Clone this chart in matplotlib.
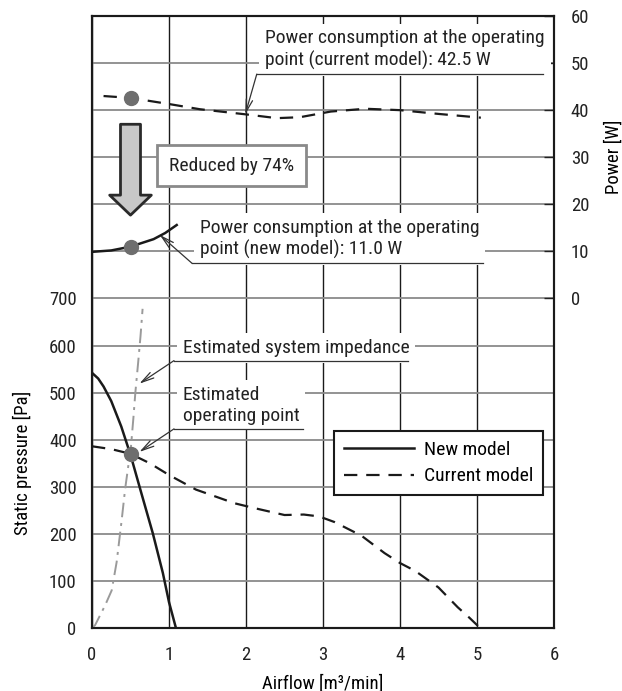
import matplotlib
matplotlib.use("Agg")
import matplotlib.pyplot as plt
import numpy as np

plt.rcParams['font.family'] = ['Roboto Condensed', 'DejaVu Sans']
plt.rcParams['font.size'] = 13

# static pressure curves
flow_new = [0, 0.08, 0.15, 0.25, 0.38, 0.5, 0.64, 0.79, 0.92, 1.0, 1.09]
pres_new = [542, 530, 513, 482, 428, 368, 287, 201, 117, 55, 0]

flow_cur = [0, 0.25, 0.5, 0.75, 1.0, 1.35, 1.85, 2.1, 2.5, 2.75, 2.95, 3.15,
            3.5, 3.8, 4.0, 4.2, 4.5, 4.75, 4.9, 5.04]
pres_cur = [386, 380, 370, 350, 325, 294, 265, 255, 240, 241, 237, 225,
            196, 159, 138, 121, 86, 44, 22, 0]

flow_imp = [0, 0.04, 0.17, 0.256, 0.32, 0.386, 0.43, 0.472, 0.506, 0.537,
            0.563, 0.60, 0.63, 0.657]
pres_imp = [0, 6, 48, 80, 140, 230, 295, 345, 385, 445, 500, 565, 620, 678]

# power curves
flow_pw_new = [0, 0.25, 0.5, 0.8, 0.95, 1.1]
power_new = [9.9, 10.2, 11.0, 12.6, 13.9, 15.6]

flow_pw_cur = [0.15, 0.5, 1.0, 1.4, 2.0, 2.4, 2.7, 3.1, 3.55, 4.0, 4.5, 5.05]
power_cur = [43.0, 42.6, 41.3, 40.2, 39.1, 38.3, 38.5, 39.7, 40.3, 40.0, 39.2, 38.4]

# operating point
op_flow = 0.5
op_pres = 370
op_power_cur = 42.5
op_power_new = 11.0

x_ticks = [0, 1, 2, 3, 4, 5, 6]
p_ticks = [0, 100, 200, 300, 400, 500, 600, 700]
w_ticks = [0, 10, 20, 30, 40, 50, 60]

fig = plt.figure(figsize=(6.22, 6.91), dpi=100)
ax = fig.add_axes([92 / 622, 1 - 628 / 691, 462 / 622, 612 / 691])
axp = ax.twinx()

ax.set_xlim(0, 6)
ax.set_ylim(0, 1300)
axp.set_ylim(-70, 60)

ax.set_xticks(x_ticks)
ax.set_yticks(np.arange(0, 1301, 100))
ax.set_yticklabels([str(v) if v in p_ticks else '' for v in range(0, 1301, 100)])
axp.set_yticks(w_ticks)

ax.yaxis.grid(True, color='#8a8a8a', lw=1.3)
ax.xaxis.grid(True, color='#1a1a1a', lw=1.0)
ax.set_axisbelow(True)
ax.tick_params(axis='both', length=0, labelsize=13.5, colors='#222222')
ax.tick_params(axis='y', pad=11)
ax.tick_params(axis='x', pad=13)
axp.tick_params(axis='y', direction='in', length=7, width=1, pad=12,
                labelsize=13.5, colors='#222222')
for a in (ax, axp):
    for s in a.spines.values():
        s.set_linewidth(1.5)
        s.set_color('#1a1a1a')

ax.set_xlabel('Airflow [m³/min]', fontsize=13.5)
ax.xaxis.set_label_coords(0.5, -0.075)
ax.set_ylabel('Static pressure [Pa]', fontsize=13.5)
ax.yaxis.set_label_coords(-0.13, 0.27)
axp.set_ylabel('Power [W]', fontsize=13.5)
axp.yaxis.set_label_coords(1.11, 0.77)

# pressure curves
ax.plot(flow_imp, pres_imp, color='#9a9a9a', lw=1.4,
        linestyle=(0, (7.5, 3, 1.5, 3)), zorder=3)
ax.plot(flow_new, pres_new, color='#1a1a1a', lw=1.8, zorder=4, label='New model')
ax.plot(flow_cur, pres_cur, color='#1a1a1a', lw=1.6, linestyle=(0, (6, 4)),
        zorder=4, label='Current model')
ax.plot([op_flow], [op_pres], 'o', color='#6e6e6e', ms=10, zorder=5)

# power curves
axp.plot(flow_pw_new, power_new, color='#1a1a1a', lw=1.8, zorder=4)
axp.plot(flow_pw_cur, power_cur, color='#1a1a1a', lw=1.6, linestyle=(0, (6, 4)), zorder=4)
axp.plot([op_flow, op_flow], [op_power_cur, op_power_new], 'o', color='#6e6e6e',
         ms=10, zorder=5)

leg = ax.legend(loc='upper right', bbox_to_anchor=(0.976, 0.322), borderaxespad=0,
                fancybox=False, framealpha=1, edgecolor='#1a1a1a', handlelength=3.6,
                fontsize=14, borderpad=0.5, labelspacing=0.45, handletextpad=0.5)
leg.get_frame().set_linewidth(1.5)
leg.set_zorder(6)

def callout(a, text, tx, ty, ux0, ux1, uy, target):
    a.text(tx, ty, text, ha='left', va='bottom', fontsize=14, color='#222222',
           linespacing=1.2, zorder=6,
           bbox=dict(boxstyle='square,pad=0.3', facecolor='white', edgecolor='none'))
    a.plot([ux0, ux1], [uy, uy], color='#333333', lw=0.9, zorder=7)
    a.annotate('', xy=target, xytext=(ux0, uy),
               arrowprops=dict(arrowstyle='->,head_length=0.7,head_width=0.18',
                               color='#333333', lw=0.9, shrinkA=0, shrinkB=0),
               zorder=7)

callout(axp, 'Power consumption at the operating\npoint (current model): 42.5 W',
        2.25, 48.6, 2.14, 5.86, 47.66, (1.99, 39.1))
callout(axp, 'Power consumption at the operating\npoint (new model): 11.0 W',
        1.40, 8.4, 1.30, 5.08, 7.45, (0.88, 13.5))
callout(ax, 'Estimated system impedance', 1.18, 576, 1.065, 4.10, 568, (0.615, 519))
callout(ax, 'Estimated\noperating point', 1.18, 432, 1.065, 2.74, 423, (0.615, 374))

axp.text(1.81, 28.2, 'Reduced by 74%', ha='center', va='center', fontsize=14,
         color='#222222', zorder=6,
         bbox=dict(boxstyle='square,pad=0.6', facecolor='white',
                   edgecolor='#8a8a8a', lw=2))

axp.annotate('', xy=(0.5, 17.7), xytext=(0.5, 37.0),
             arrowprops=dict(arrowstyle='simple,head_length=0.72,head_width=1.5,tail_width=0.72',
                             mutation_scale=20, facecolor='#c8c8c8', edgecolor='#2a2a2a',
                             lw=2, shrinkA=0, shrinkB=0),
             zorder=6)

fig.savefig('out.png', dpi=100)
